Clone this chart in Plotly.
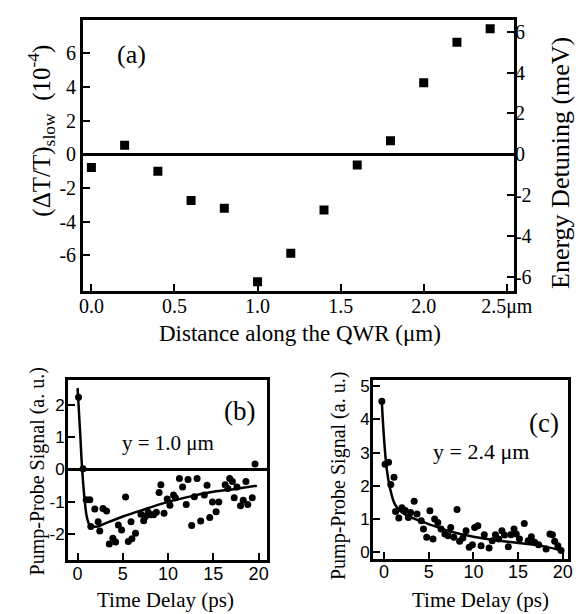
import plotly.graph_objects as go

# ---------------- data ----------------
# Panel (a): (ΔT/T)slow vs distance along the QWR
dist_um = [0.0, 0.2, 0.4, 0.6, 0.8, 1.0, 1.2, 1.4, 1.6, 1.8, 2.0, 2.2, 2.4]
dtt_slow = [-0.78, 0.53, -1.0, -2.75, -3.2, -7.57, -5.88, -3.31, -0.63, 0.80, 4.25, 6.65, 7.45]
a_xticks = [0.0, 0.5, 1.0, 1.5, 2.0, 2.5]
a_xticktext = ["0.0", "0.5", "1.0", "1.5", "2.0", "2.5μm"]
a_yticks = [-6, -4, -2, 0, 2, 4, 6]
a_yticktext = ["-6", "-4", "-2", "0", "2", "4", "6"]

# Panel (b): pump-probe signal at y = 1.0 µm
b_t = [0.1, 0.6, 0.95, 1.35, 1.46, 1.9, 2.27, 2.45, 2.8, 3.2, 3.5, 3.9, 4.2, 4.5, 4.86,
       5.3, 5.6, 5.9, 6.0, 6.4, 7.0, 7.3, 7.5, 7.8, 8.1, 8.4, 8.7, 9.0, 9.2, 9.55,
       9.9, 10.2, 10.6, 10.8, 11.25, 11.6, 12.0, 12.2, 12.6, 12.9, 13.2, 13.6, 14.0, 14.3, 14.6,
       14.9, 15.3, 15.6, 16.3, 16.6, 16.8, 17.1, 17.3, 17.6, 18.0, 18.3, 18.6, 18.8, 19.3, 19.6]
b_sig = [2.23, 0.02, -0.93, -0.93, -1.76, -1.22, -1.61, -1.9, -1.2, -1.28, -2.3, -2.12, -2.24, -1.71, -1.87,
         -0.85, -2.22, -1.61, -2.14, -1.97, -1.38, -1.58, -1.45, -1.32, -1.40, -1.40, -1.32, -0.71, -0.47, -1.35,
         -0.91, -1.1, -0.79, -0.87, -0.28, -0.54, -1.08, -0.31, -1.73, -0.84, -0.28, -1.59, -0.79, -0.49, -1.48,
         -1.0, -1.3, -1.0, -0.47, -0.59, -0.28, -0.37, -0.87, -0.54, -1.12, -0.95, -0.37, -1.08, -0.87, 0.17]
b_fit_t = [0.0, 0.3, 0.5, 0.8, 1.05, 1.4, 2.2, 3.0, 5.0, 7.5, 10.0, 12.5, 15.0, 17.5, 19.8]
b_fit = [2.51, 1.04, 0.02, -1.0, -1.5, -1.74, -1.76, -1.67, -1.45, -1.22, -1.0, -0.83, -0.69, -0.6, -0.5]

# Panel (c): pump-probe signal at y = 2.4 µm
c_t = [-0.25, 0.11, 0.5, 0.75, 1.11, 1.29, 1.65, 2.0, 2.37, 2.72, 2.97, 3.37, 3.69, 4.16, 4.41,
       4.77, 5.13, 5.48, 5.66, 6.02, 6.38, 6.81, 7.17, 7.46, 7.81, 8.17, 8.46, 8.82, 9.18, 9.53,
       9.89, 10.14, 10.5, 10.86, 11.22, 11.76, 12.11, 12.47, 12.83, 13.19, 13.48, 13.91, 14.19, 14.55, 14.8,
       15.16, 15.7, 16.13, 16.49, 16.85, 17.31, 18.14, 18.57, 18.85, 19.1, 19.46, 19.82]
c_sig = [4.55, 2.65, 2.71, 2.04, 2.26, 1.23, 1.03, 1.34, 1.26, 1.05, 1.2, 1.54, 1.15, 0.95, 0.7,
         0.45, 1.25, 0.4, 1.0, 0.9, 0.7, 0.55, 0.5, 0.75, 0.45, 1.29, 0.33, 0.43, 0.65, 0.15,
         0.23, 0.75, 0.8, 0.2, 0.53, 0.13, 0.35, 0.53, 0.4, 0.65, 0.52, 0.17, 0.53, 0.7, 0.55,
         0.4, 0.87, 0.35, 0.47, 0.3, 0.23, 0.1, 0.55, 0.53, 0.33, 0.2, 0.05]
c_fit_t = [-0.25, 0.0, 0.3, 0.65, 1.2, 2.0, 3.5, 5.0, 7.5, 10.0, 12.5, 15.0, 17.5, 19.9]
c_fit = [4.52, 3.4, 2.5, 1.95, 1.45, 1.2, 1.0, 0.85, 0.62, 0.47, 0.36, 0.28, 0.2, 0.05]

bc_xticks = [0, 5, 10, 15, 20]
b_yticks = [-2, -1, 0, 1, 2]
b_yticktext = ["-2", "-1", "0", "1", "2"]
c_yticks = [0, 1, 2, 3, 4, 5]

# ---------------- figure ----------------
W, H = 584, 614
SERIF = "Liberation Serif, Times New Roman, serif"
SANS = "Liberation Sans, Arial, sans-serif"
BLACK = "black"

fig = go.Figure()

fig.add_trace(go.Scatter(x=dist_um, y=dtt_slow, mode="markers", xaxis="x", yaxis="y",
                         marker=dict(symbol="square", size=9, color=BLACK), showlegend=False))
fig.add_trace(go.Scatter(x=[None], y=[None], xaxis="x", yaxis="y2", showlegend=False,
                         hoverinfo="skip"))

fig.add_trace(go.Scatter(x=b_fit_t, y=b_fit, mode="lines", xaxis="x2", yaxis="y3",
                         line=dict(color=BLACK, width=2.5, shape="spline"), showlegend=False))
fig.add_trace(go.Scatter(x=b_t, y=b_sig, mode="markers", xaxis="x2", yaxis="y3",
                         marker=dict(symbol="circle", size=7, color=BLACK), showlegend=False))

fig.add_trace(go.Scatter(x=c_fit_t, y=c_fit, mode="lines", xaxis="x3", yaxis="y4",
                         line=dict(color=BLACK, width=2.5, shape="spline"), showlegend=False))
fig.add_trace(go.Scatter(x=c_t, y=c_sig, mode="markers", xaxis="x3", yaxis="y4",
                         marker=dict(symbol="circle", size=7, color=BLACK), showlegend=False))


def px_x(p):
    return p / W


def px_y(p):
    return 1 - p / H


common = dict(showline=True, linecolor=BLACK, linewidth=3, mirror=True, showgrid=False,
              ticks="inside", tickcolor=BLACK, tickwidth=2, ticklen=7)

fig.update_layout(
    width=W, height=H,
    margin=dict(l=0, r=0, t=0, b=0),
    paper_bgcolor="white", plot_bgcolor="white",
    showlegend=False,
    xaxis=dict(domain=[px_x(74), px_x(522.5)], anchor="y", range=[-0.05, 2.543],
               tickvals=a_xticks, ticktext=a_xticktext, zeroline=False, ticklabelstandoff=-5,
               tickfont=dict(family=SERIF, size=20, color=BLACK), **common),
    yaxis=dict(domain=[px_y(283.3), px_y(10.5)], anchor="x", range=[-8.09, 7.95],
               tickvals=a_yticks, ticktext=a_yticktext,
               zeroline=True, zerolinecolor=BLACK, zerolinewidth=2.5,
               tickfont=dict(family=SERIF, size=20, color=BLACK), **common),
    yaxis2=dict(overlaying="y", side="right", anchor="x", range=[-6.68, 6.56],
                tickvals=a_yticks, ticktext=a_yticktext,
                zeroline=False, showgrid=False, showline=False,
                ticks="inside", tickcolor=BLACK, tickwidth=2, ticklen=7,
                tickfont=dict(family=SERIF, size=20, color=BLACK)),
    xaxis2=dict(domain=[px_x(58.3), px_x(265.7)], anchor="y3", range=[-1.06, 20.95],
                tickvals=bc_xticks, zeroline=False, ticklabelstandoff=-5,
                tickfont=dict(family=SANS, size=18, color=BLACK), **common),
    yaxis3=dict(domain=[px_y(555.7), px_y(373.3)], anchor="x2", range=[-2.8, 2.77],
                tickvals=b_yticks, ticktext=b_yticktext, ticklabelstandoff=-3,
                zeroline=True, zerolinecolor=BLACK, zerolinewidth=2.5,
                tickfont=dict(family=SANS, size=17, color=BLACK), **common),
    xaxis3=dict(domain=[px_x(376), px_x(578.3)], anchor="y4", range=[-1.22, 20.54],
                tickvals=bc_xticks, zeroline=False, ticklabelstandoff=-5,
                tickfont=dict(family=SANS, size=18, color=BLACK), **common),
    yaxis4=dict(domain=[px_y(554), px_y(373.3)], anchor="x3", range=[-0.19, 5.2],
                tickvals=c_yticks, zeroline=False, ticklabelstandoff=-3,
                tickfont=dict(family=SANS, size=17, color=BLACK), **common),
)


def ann(text, x, y, size, angle=0):
    fig.add_annotation(text=text, x=px_x(x), y=px_y(y), xref="paper", yref="paper",
                       xanchor="center", yanchor="middle", showarrow=False, textangle=angle,
                       font=dict(family=SERIF, size=size, color=BLACK))


# panel labels and in-plot text
ann("(a)", 124.4, 45, 26)
ann("(b)", 237.3, 405, 27)
ann("(c)", 554, 416.7, 27)
ann("y = 1.0 μm", 162.3, 437.3, 21)
ann("y = 2.4 μm", 488.3, 446, 22)

# axis titles
ann("Distance along the QWR (μm)", 299.5, 326.7, 23)
ann("(ΔT/T)<sub>slow</sub>  (10<sup>-4</sup>)", 30, 122, 25, -90)
ann("Energy Detuning (meV)", 571, 155, 26, -90)
ann("Pump-Probe Signal (a. u.)", 26, 466, 20, -90)
ann("Time Delay (ps)", 160, 596, 21)
ann("Pump-Probe Signal (a. u.)", 340, 471, 20, -90)
ann("Time Delay (ps)", 488, 596, 21)

fig.write_html("out.html")
